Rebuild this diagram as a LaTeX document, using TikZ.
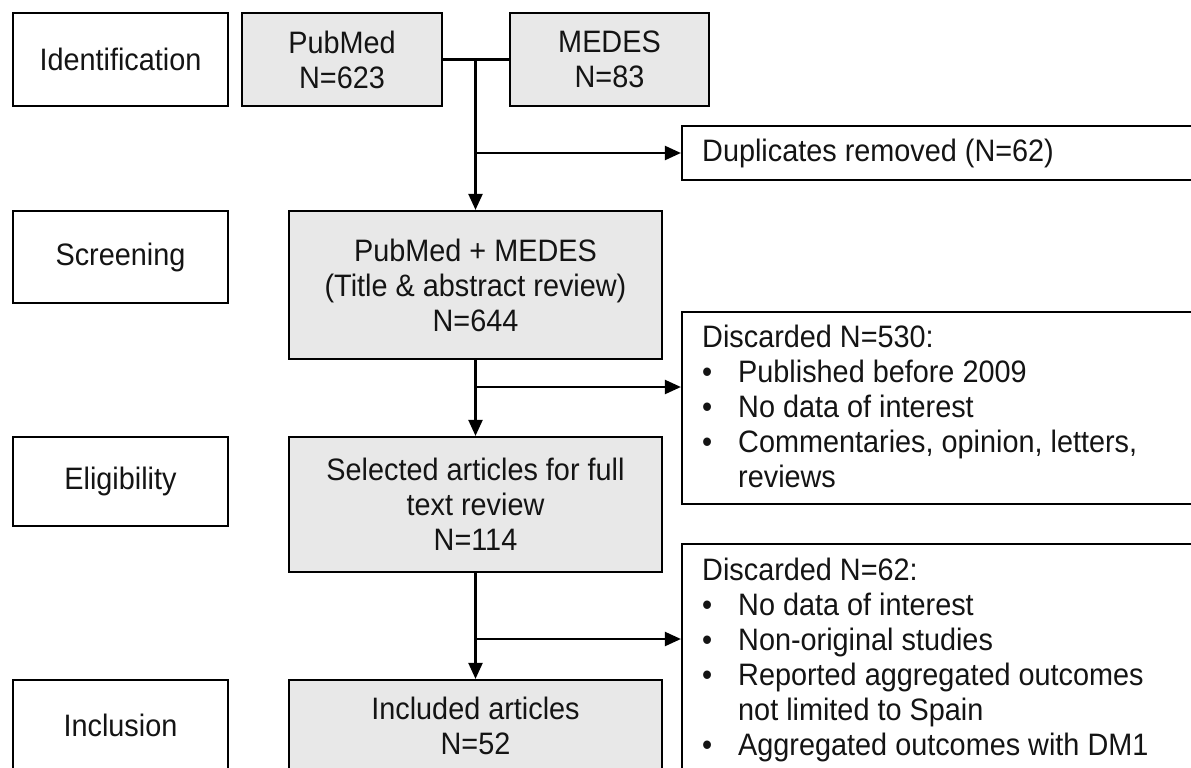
\documentclass[tikz,border=0pt]{standalone}
\usepackage{fontspec}
\setmainfont[FakeStretch=0.93]{Liberation Sans}
\usetikzlibrary{arrows.meta}
\definecolor{boxgray}{RGB}{232,232,232}
\definecolor{inkblack}{RGB}{20,20,20}
\begin{document}
\begin{tikzpicture}[x=1pt,y=-1pt,
  box/.style={draw=black, line width=2.2pt, rectangle, inner sep=0pt,
    font=\fontsize{31}{35}\selectfont, align=center, text=inkblack},
  lab/.style={box, fill=white},
  gbox/.style={box, fill=boxgray},
  wbox/.style={box, fill=white},
  txt/.style={inner sep=0pt, font=\fontsize{31}{35}\selectfont, text=inkblack, align=left},
  conn/.style={line width=2.2pt},
  arr/.style={conn, -{Triangle[length=16pt,width=14pt]}}]
\useasboundingbox (0,0) rectangle (1191,768);
\clip (0,0) rectangle (1191,768);

% stage labels
\node[lab, minimum width=215pt, minimum height=93pt] (idl) at (120.5,59.5) {Identification};
\node[lab, minimum width=215pt, minimum height=92pt] (scl) at (120.5,257) {Screening};
\node[lab, minimum width=215pt, minimum height=89pt] (ell) at (120.5,481.5) {Eligibility};
\node[lab, minimum width=215pt, minimum height=90pt] (inl) at (120.5,725) {Inclusion};

% main flow boxes
\node[gbox, minimum width=200pt, minimum height=93pt] (pub) at (342,59.5) {PubMed\\N=623};
\node[gbox, minimum width=199pt, minimum height=93pt] (med) at (609.5,59.5) {MEDES\\N=83};
\node[gbox, minimum width=373pt, minimum height=148pt] (scr) at (475.5,285) {PubMed + MEDES\\(Title \& abstract review)\\N=644};
\node[gbox, minimum width=373pt, minimum height=135pt] (eli) at (475.5,504.5) {Selected articles for full\\text review\\N=114};
\node[gbox, minimum width=373pt, minimum height=91pt] (inc) at (475.5,725.5) {Included articles\\N=52};

% side boxes (run off the right edge)
\node[wbox, minimum width=518pt, minimum height=54pt] (dup) at (941,153) {};
\node[wbox, minimum width=518pt, minimum height=192pt] (d530) at (941,408) {};
\node[wbox, minimum width=518pt, minimum height=256pt] (d62) at (941,672) {};

\node[txt, anchor=west] (tdup) at (702,153) {Duplicates removed (N=62)};
\node[txt, anchor=north west] (t530) at (702,323) {\begin{tabular}{@{}p{36pt}@{}l@{}}
\multicolumn{2}{@{}l@{}}{Discarded N=530:}\\
\textbullet & Published before 2009\\
\textbullet & No data of interest\\
\textbullet & Commentaries, opinion, letters,\\
 & reviews
\end{tabular}};
\node[txt, anchor=north west] (t62) at (702,556) {\begin{tabular}{@{}p{36pt}@{}l@{}}
\multicolumn{2}{@{}l@{}}{Discarded N=62:}\\
\textbullet & No data of interest\\
\textbullet & Non-original studies\\
\textbullet & Reported aggregated outcomes\\
 & not limited to Spain\\
\textbullet & Aggregated outcomes with DM1
\end{tabular}};

% connectors
\coordinate (j1) at (scr.north |- pub.east);
\coordinate (b1) at (scr.north |- dup.west);
\coordinate (b2) at (476,387);
\coordinate (b3) at (476,639);
\draw[conn] (pub.east) -- (med.west);
\draw[arr] (j1) -- (scr.north);
\draw[arr] (b1) -- (dup.west);
\draw[arr] (scr.south) -- (eli.north);
\draw[arr] (b2) -- (b2 -| d530.west);
\draw[arr] (eli.south) -- (inc.north);
\draw[arr] (b3) -- (b3 -| d62.west);
\end{tikzpicture}
\end{document}
